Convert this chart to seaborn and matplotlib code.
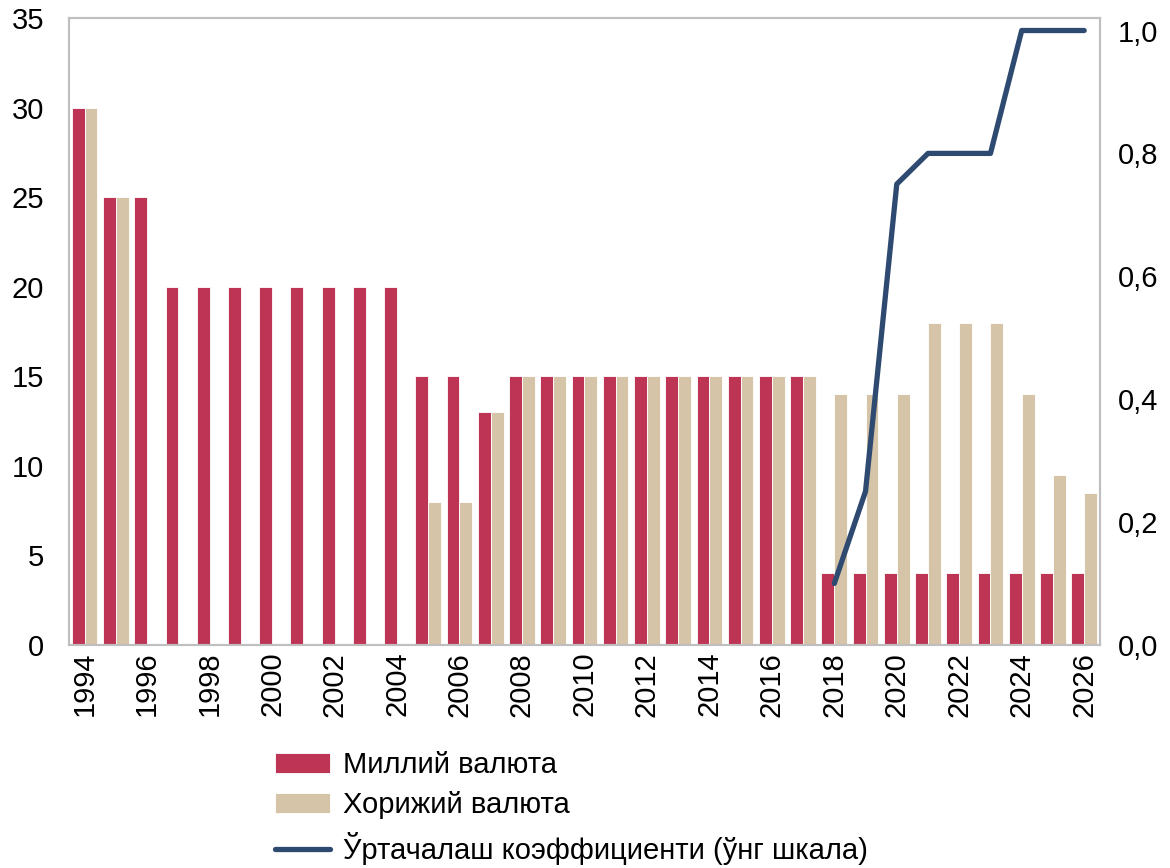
import pandas as pd
import seaborn as sns
import matplotlib.pyplot as plt
from matplotlib.ticker import FuncFormatter

years = list(range(1994, 2027))
national = [30, 25, 25, 20, 20, 20, 20, 20, 20, 20, 20, 15, 15, 13,
            15, 15, 15, 15, 15, 15, 15, 15, 15, 15,
            4, 4, 4, 4, 4, 4, 4, 4, 4]
foreign = [30, 25, 0, 0, 0, 0, 0, 0, 0, 0, 0, 8, 8, 13,
           15, 15, 15, 15, 15, 15, 15, 15, 15, 15,
           14, 14, 14, 18, 18, 18, 14, 9.5, 8.5]
coef_years = [2018, 2019, 2020, 2021, 2022, 2023, 2024, 2025, 2026]
coef = [0.1, 0.25, 0.75, 0.8, 0.8, 0.8, 1.0, 1.0, 1.0]

label_nat = "Миллий валюта"
label_for = "Хорижий валюта"
label_coef = "Ўртачалаш коэффициенти (ўнг шкала)"

df = pd.DataFrame({
    "year": years * 2,
    "value": national + foreign,
    "series": [label_nat] * len(years) + [label_for] * len(years),
})

sns.set_theme(style="white")
plt.rcParams["font.family"] = ["Liberation Sans", "DejaVu Sans"]
plt.rcParams["text.color"] = "black"
plt.rcParams["xtick.color"] = "black"
plt.rcParams["ytick.color"] = "black"

fig = plt.figure(figsize=(11.7, 8.68), dpi=100)
ax = fig.add_axes([0.059, 0.257, 0.881, 0.722])

sns.barplot(data=df, x="year", y="value", hue="series",
            palette=["#BE3455", "#D6C4A8"], saturation=1, width=0.82,
            edgecolor="white", linewidth=0.6, ax=ax)

ax2 = ax.twinx()
pos = [years.index(y) for y in coef_years]
sns.lineplot(x=pos, y=coef, color="#2E4A70", linewidth=3.8,
             label=label_coef, ax=ax2)

ax.set_xlim(-0.5, len(years) - 0.5)
ax.set_ylim(0, 35)
ax.set_yticks(range(0, 36, 5))
ax2.set_ylim(0, 1.02)
ax2.set_yticks([0, 0.2, 0.4, 0.6, 0.8, 1.0])
ax2.yaxis.set_major_formatter(FuncFormatter(lambda v, p: f"{v:.1f}".replace(".", ",")))

ax.set_xticks(range(0, len(years), 2))
ax.set_xticklabels([str(y) for y in years[::2]], rotation=90)
ax.set_xlabel("")
ax.set_ylabel("")
ax2.set_ylabel("")

ax.tick_params(axis="y", labelsize=21, pad=18, length=0)
ax.tick_params(axis="x", labelsize=21, pad=5, length=0)
ax2.tick_params(axis="y", labelsize=21, pad=13, length=0)

for a in (ax, ax2):
    for s in a.spines.values():
        s.set_color("#BFBFBF")
        s.set_linewidth(1.5)

h1, l1 = ax.get_legend_handles_labels()
h2, l2 = ax2.get_legend_handles_labels()
ax.get_legend().remove()
ax2.get_legend().remove()
fig.legend(h1 + h2, l1 + l2, loc="upper left", bbox_to_anchor=(0.225, 0.148),
           frameon=False, fontsize=21, handlelength=1.9, handleheight=0.65,
           handletextpad=0.45, labelspacing=0.42, borderaxespad=0)

fig.savefig("out.png", dpi=100)
